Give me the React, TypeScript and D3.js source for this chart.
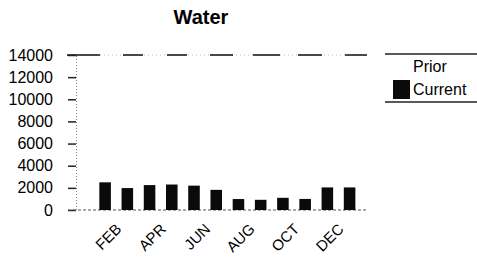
import { axisLeft, scaleBand, scaleLinear, select } from 'd3';
import { useEffect, useRef } from 'react';

// monthly water usage, Current series (Prior prints white / invisible)
const months = ['JAN', 'FEB', 'MAR', 'APR', 'MAY', 'JUN', 'JUL', 'AUG', 'SEP', 'OCT', 'NOV', 'DEC'];
const current = [2500, 1980, 2250, 2300, 2200, 1820, 990, 920, 1100, 1000, 2040, 2040];
const prior = [0, 0, 0, 0, 0, 0, 0, 0, 0, 0, 0, 0];
const yTicks = [0, 2000, 4000, 6000, 8000, 10000, 12000, 14000];
const seriesNames = ['Prior', 'Current'];

const FONT = '"Liberation Sans", Arial, sans-serif';

const App = () => {
  const svgRef = useRef<SVGSVGElement>(null);

  useEffect(() => {
    const svg = select(svgRef.current);
    svg.selectAll('*').remove();

    const W = 477;
    const H = 261;
    const axisX = 76;
    const plotRight = 367;

    svg.attr('width', W).attr('height', H);
    svg.append('rect').attr('width', W).attr('height', H).attr('fill', '#fff');

    const x = scaleBand<string>()
      .domain(months)
      .range([94, 360.7])
      .paddingInner(0.48)
      .paddingOuter(0.24);
    const y = scaleLinear().domain([0, 14000]).range([210, 55]);

    // title
    svg
      .append('text')
      .attr('x', 201)
      .attr('y', 24)
      .attr('text-anchor', 'middle')
      .style('font-family', FONT)
      .style('font-weight', 'bold')
      .style('font-size', '20px')
      .text('Water');

    // top gridline (broken up like the scan)
    svg
      .append('line')
      .attr('x1', 68)
      .attr('x2', plotRight)
      .attr('y1', y(14000))
      .attr('y2', y(14000))
      .attr('stroke', '#bbb')
      .attr('stroke-dasharray', '1,3');
    svg
      .append('line')
      .attr('x1', 67)
      .attr('x2', plotRight)
      .attr('y1', y(14000))
      .attr('y2', y(14000))
      .attr('stroke', '#111')
      .attr('stroke-width', 1.5)
      .attr('stroke-dasharray', '33,23,20,24,20,23,23,20,27,18,24,23,22');

    // y axis
    const yAxis = svg
      .append('g')
      .attr('transform', `translate(${axisX},0)`)
      .call(axisLeft(y).tickValues(yTicks).tickSize(8).tickPadding(15).tickFormat((d) => `${d}`));
    yAxis.select('.domain').attr('stroke', '#888').attr('stroke-dasharray', '1,2');
    yAxis.selectAll('.tick line').attr('stroke', '#222').attr('stroke-width', 1.5);
    yAxis
      .selectAll('.tick text')
      .attr('fill', '#000')
      .style('font-family', FONT)
      .style('font-size', '16px');

    // baseline
    svg
      .append('line')
      .attr('x1', 68)
      .attr('x2', plotRight)
      .attr('y1', y(0))
      .attr('y2', y(0))
      .attr('stroke', '#555')
      .attr('stroke-dasharray', '3,2');

    // prior bars (white)
    svg
      .append('g')
      .selectAll('rect')
      .data(prior)
      .enter()
      .append('rect')
      .attr('x', (d, i) => x(months[i]))
      .attr('y', (d) => y(d))
      .attr('width', x.bandwidth())
      .attr('height', (d) => y(0) - y(d))
      .attr('fill', '#fff');

    // current bars
    svg
      .append('g')
      .selectAll('rect')
      .data(current)
      .enter()
      .append('rect')
      .attr('x', (d, i) => x(months[i]))
      .attr('y', (d) => y(d))
      .attr('width', x.bandwidth())
      .attr('height', (d) => y(0) - y(d))
      .attr('fill', '#0a0a0a');

    // x labels, every other month, rotated
    svg
      .append('g')
      .selectAll('text')
      .data(months.filter((m, i) => i % 2 === 1))
      .enter()
      .append('text')
      .attr('transform', (d) => `translate(${x(d) + x.bandwidth() / 2 - 5},230)rotate(-45)`)
      .attr('text-anchor', 'end')
      .style('font-family', FONT)
      .style('font-size', '15px')
      .text((d) => d);

    // legend
    const leg = svg.append('g');
    leg.append('rect').attr('x', 385).attr('y', 54).attr('width', 100).attr('height', 48).attr('fill', '#fff');
    [54, 102].forEach((ly) =>
      leg
        .append('line')
        .attr('x1', 385)
        .attr('x2', W)
        .attr('y1', ly)
        .attr('y2', ly)
        .attr('stroke', '#222')
        .attr('stroke-width', 1.5)
    );
    seriesNames.forEach((name, i) => {
      leg
        .append('rect')
        .attr('x', 393)
        .attr('y', 58 + i * 22)
        .attr('width', 17)
        .attr('height', 19)
        .attr('fill', i === 0 ? '#fff' : '#0a0a0a');
      leg
        .append('text')
        .attr('x', 413)
        .attr('y', 72 + i * 23)
        .style('font-family', FONT)
        .style('font-size', '16px')
        .text(name);
    });
  }, []);

  return (
    <svg ref={svgRef} style={{ position: 'absolute', left: 0, top: 0 }} />
  );
};

export default App;
